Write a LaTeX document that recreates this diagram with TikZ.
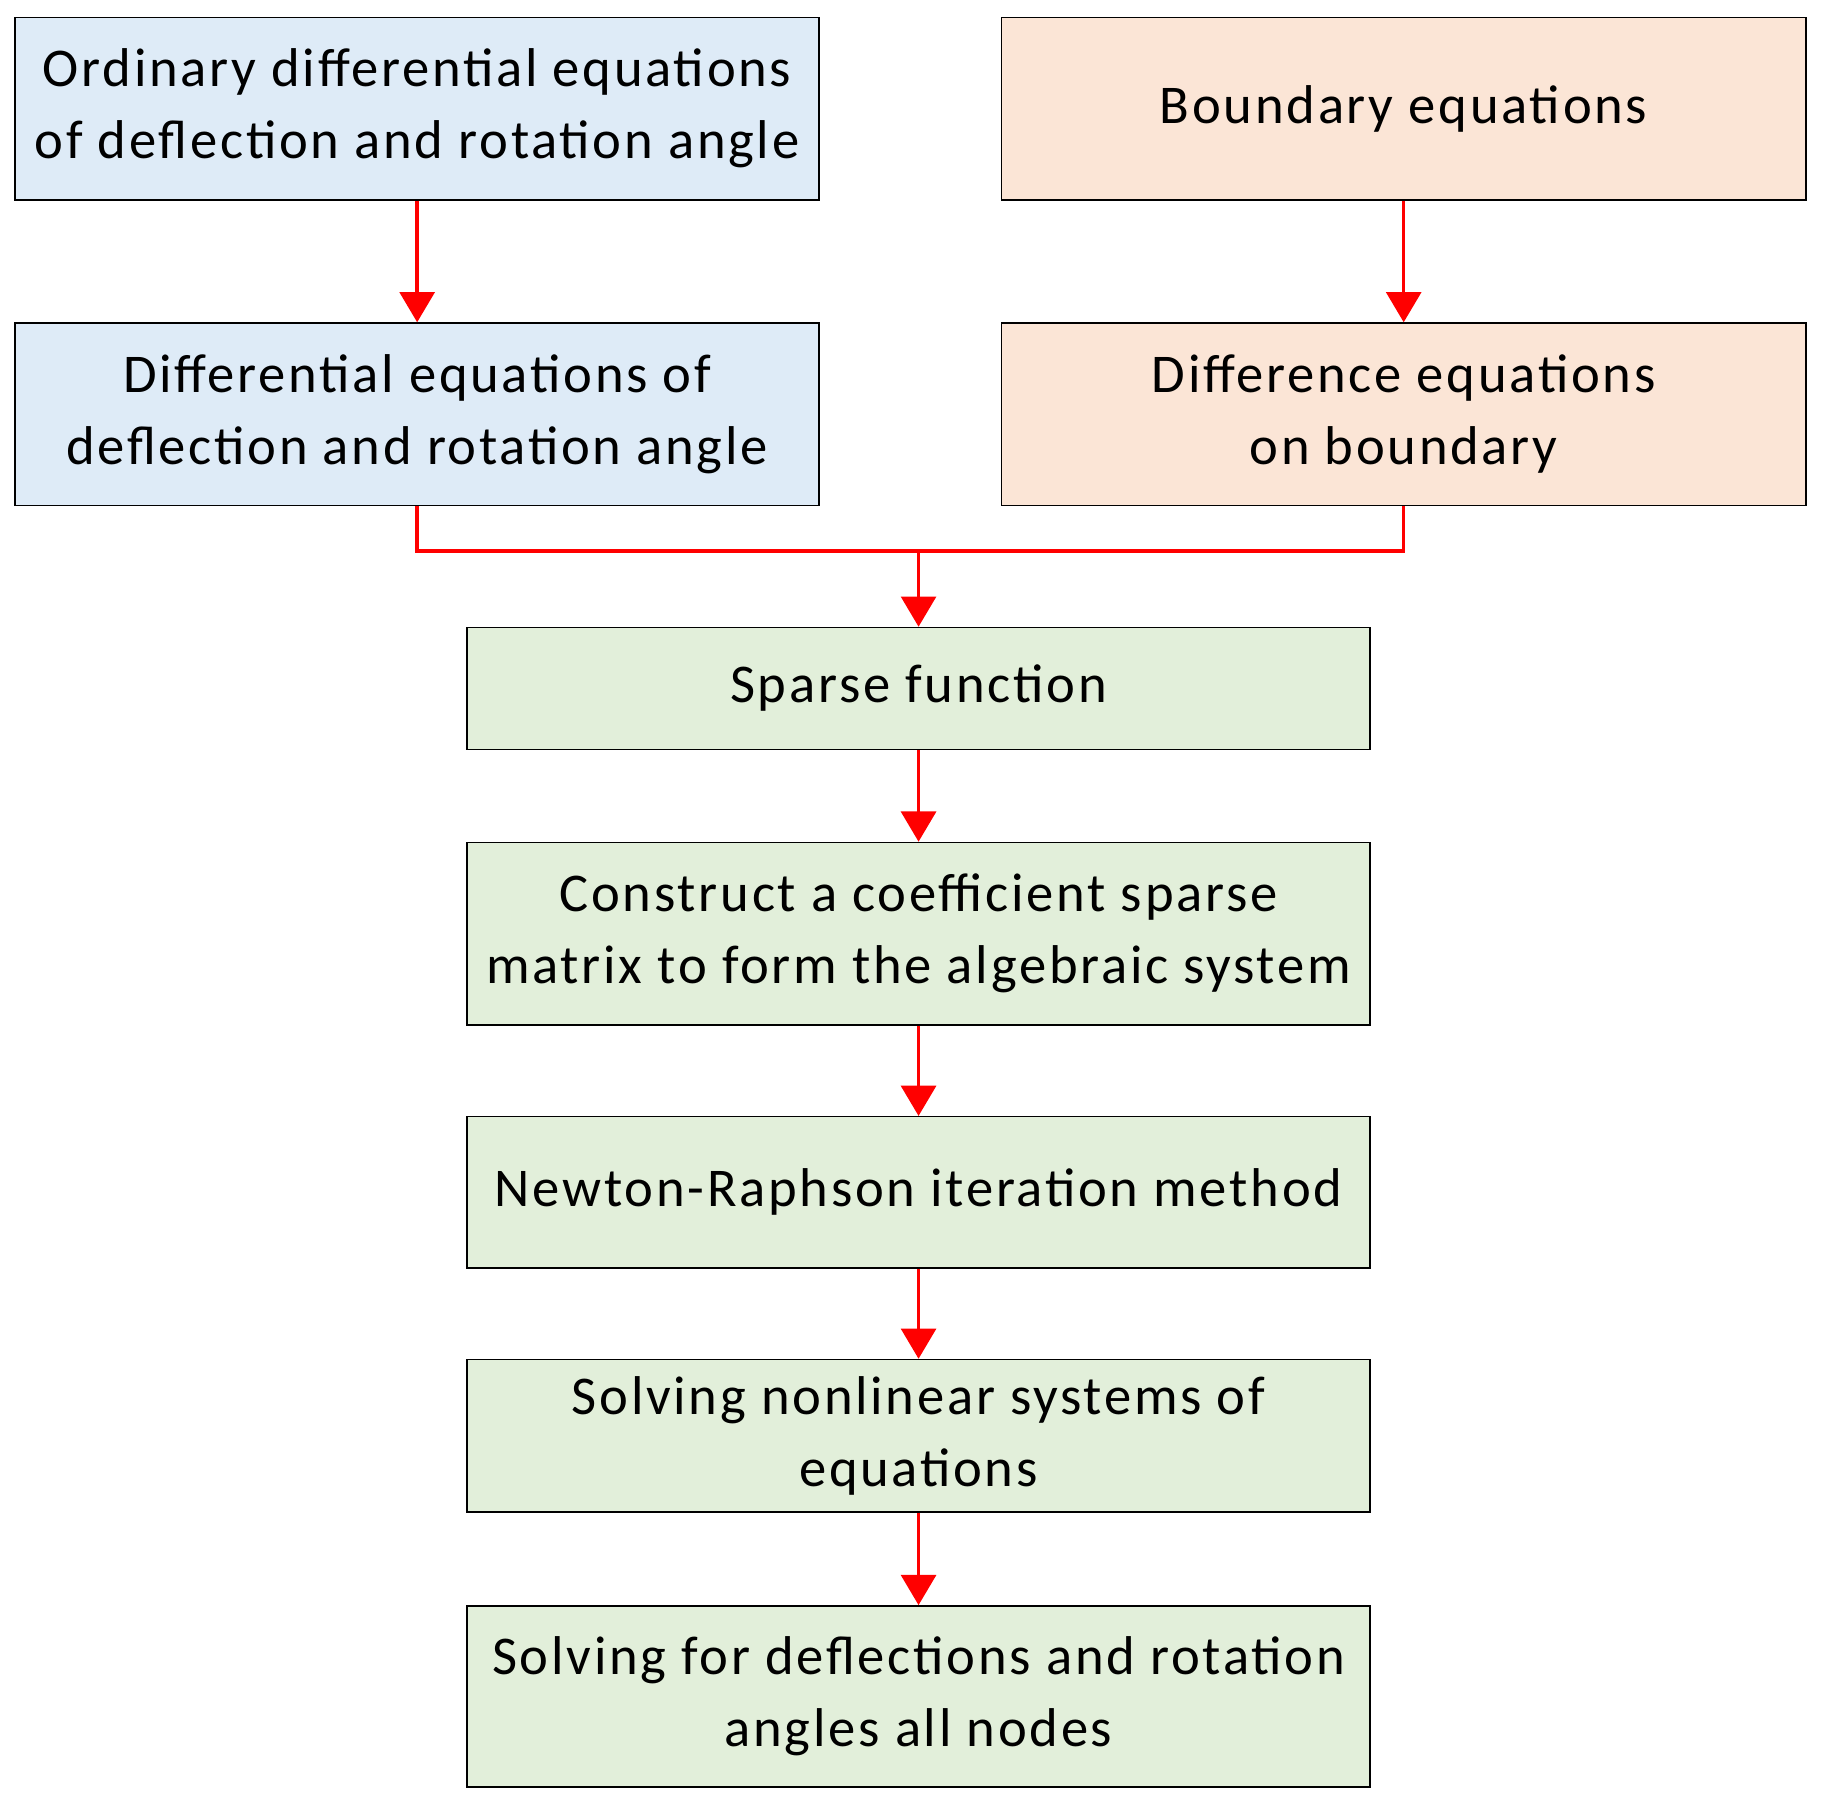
\documentclass[tikz,border=0pt]{standalone}
\usepackage{fontspec}
\setmainfont{Carlito}[LetterSpace=5]
\usetikzlibrary{arrows.meta}
\definecolor{cb}{HTML}{DEEBF7}
\definecolor{co}{HTML}{FBE5D6}
\definecolor{cg}{HTML}{E2EFDA}
\begin{document}
\begin{tikzpicture}[x=1pt,y=-1pt,
 box/.style={draw=black,line width=1.3pt,align=center,inner sep=0pt,font=\fontsize{47}{62}\selectfont},
 top/.style={box,minimum width=692pt,minimum height=157pt},
 gr/.style={box,fill=cg,minimum width=777pt},
 arr/.style={draw=red,line width=3pt,-{Triangle[length=26pt,width=30pt]}}]
\useasboundingbox (0,0) rectangle (1568,1553);
\node[top,fill=cb] (a) at (359,93.5) {Ordinary differential equations\\of deflection and rotation angle};
\node[top,fill=co] (b) at (1208,93.5) {Boundary equations};
\node[top,fill=cb] (c) at (359,356.5) {Differential equations of\\deflection and rotation angle};
\node[top,fill=co] (d) at (1208,356.5) {Difference equations\\on boundary};
\node[gr,minimum height=105pt] (e) at (790.5,592.5) {Sparse function};
\node[gr,minimum height=157pt] (f) at (790.5,803.5) {Construct a coefficient sparse\\matrix to form the algebraic system};
\node[gr,minimum height=130pt] (g) at (790.5,1026) {Newton-Raphson iteration method};
\node[gr,minimum height=131pt] (h) at (790.5,1235.5) {Solving nonlinear systems of\\equations};
\node[gr,minimum height=156pt] (i) at (790.5,1460) {Solving for deflections and rotation\\angles all nodes};
\coordinate (j) at (790.5,474);
\draw[arr] (a) -- (c);
\draw[arr] (b) -- (d);
\draw[red,line width=3pt] (c.south) |- (j) -| (d.south);
\draw[arr] (j) -- (e);
\draw[arr] (e) -- (f);
\draw[arr] (f) -- (g);
\draw[arr] (g) -- (h);
\draw[arr] (h) -- (i);
\end{tikzpicture}
\end{document}
